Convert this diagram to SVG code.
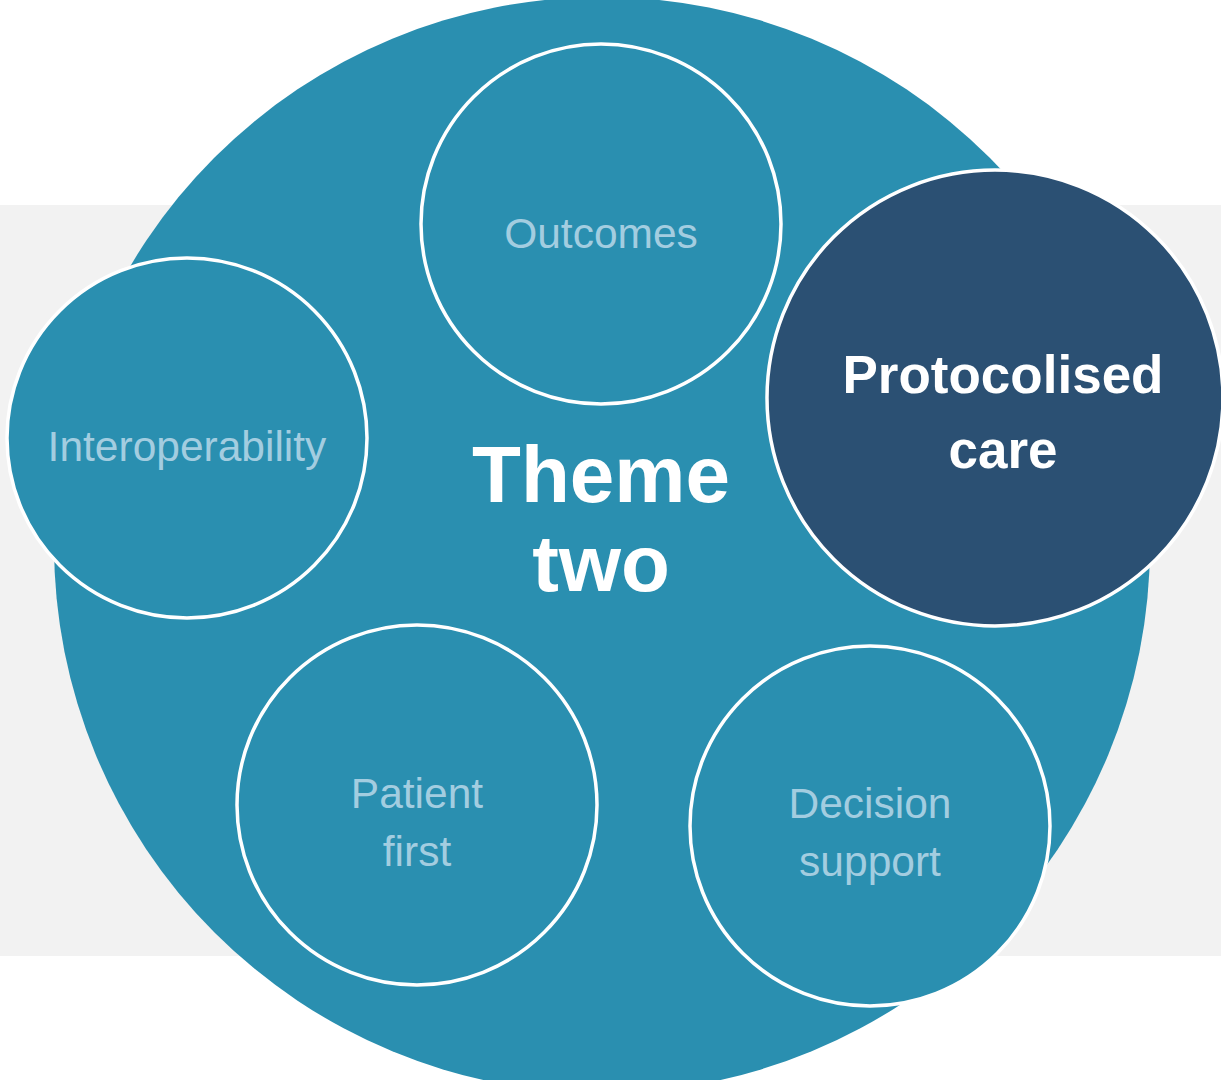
<svg xmlns="http://www.w3.org/2000/svg" width="1221" height="1080" viewBox="0 0 1221 1080">
  <style>
    .node { fill: #2a8fb0; stroke: #ffffff; stroke-width: 3.5; }
    .focus { fill: #2b5073; stroke: #ffffff; stroke-width: 3.5; }
    .label { font-family: "Liberation Sans", Arial, Helvetica, sans-serif; font-size: 42.5px; fill: #a3cde0; text-anchor: middle; }
    .strong { font-family: "Liberation Sans", Arial, Helvetica, sans-serif; font-weight: bold; fill: #ffffff; text-anchor: middle; }
  </style>
  <rect x="0" y="0" width="1221" height="1080" fill="#ffffff"/>
  <!-- background band -->
  <rect x="0" y="205" width="1221" height="751" fill="#f2f2f2"/>

  <g id="connectors"></g>

  <!-- central theme disc -->
  <g id="theme">
    <circle cx="602" cy="545" r="548" fill="#2a8fb0"/>
    <text class="strong" x="601" y="502" font-size="80">Theme</text>
    <text class="strong" x="601" y="591" font-size="80">two</text>
  </g>

  <g id="outcomes">
    <circle class="node" cx="601" cy="224" r="180"/>
    <text class="label" x="601" y="248">Outcomes</text>
  </g>

  <g id="interoperability">
    <circle class="node" cx="187" cy="438" r="180"/>
    <text class="label" x="187" y="461">Interoperability</text>
  </g>

  <g id="patient-first">
    <circle class="node" cx="417" cy="805" r="180"/>
    <text class="label" x="417" y="808">Patient</text>
    <text class="label" x="417" y="866">first</text>
  </g>

  <g id="decision-support">
    <circle class="node" cx="870" cy="826" r="180"/>
    <text class="label" x="870" y="818">Decision</text>
    <text class="label" x="870" y="876">support</text>
  </g>

  <g id="protocolised-care">
    <circle class="focus" cx="995" cy="398" r="228"/>
    <text class="strong" x="1003" y="393" font-size="53">Protocolised</text>
    <text class="strong" x="1003" y="468" font-size="53">care</text>
  </g>
</svg>
